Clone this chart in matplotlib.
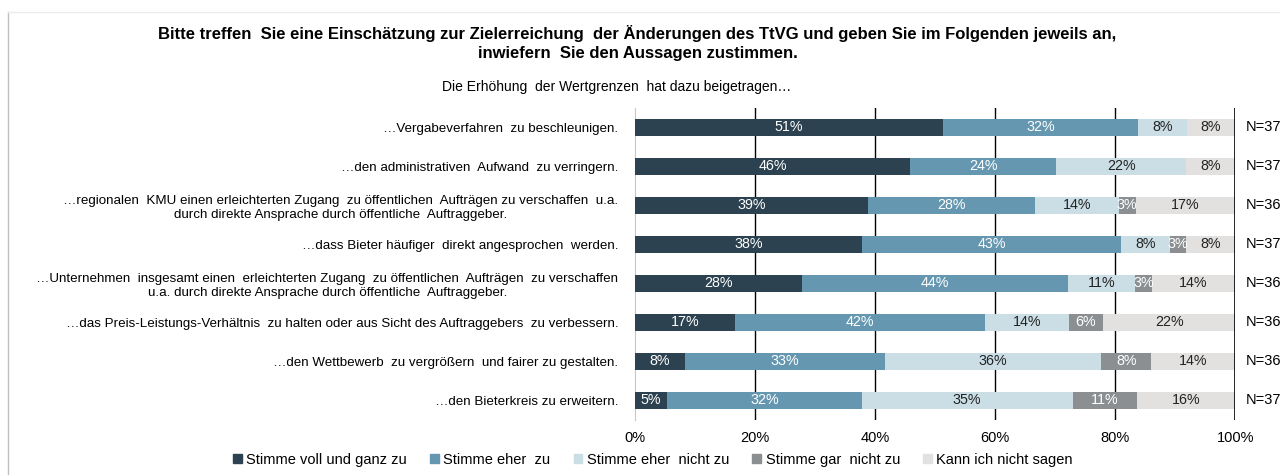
import numpy as np
import matplotlib.pyplot as plt
from matplotlib.lines import Line2D

plt.rcParams['font.family'] = ['Liberation Sans', 'DejaVu Sans']

# Aussagen (von oben nach unten)
statements = [
    "…Vergabeverfahren  zu beschleunigen.",
    "…den administrativen  Aufwand  zu verringern.",
    "…regionalen  KMU einen erleichterten Zugang  zu öffentlichen  Aufträgen zu verschaffen  u.a.\ndurch direkte Ansprache durch öffentliche  Auftraggeber.",
    "…dass Bieter häufiger  direkt angesprochen  werden.",
    "…Unternehmen  insgesamt einen  erleichterten Zugang  zu öffentlichen  Aufträgen  zu verschaffen\nu.a. durch direkte Ansprache durch öffentliche  Auftraggeber.",
    "…das Preis-Leistungs-Verhältnis  zu halten oder aus Sicht des Auftraggebers  zu verbessern.",
    "…den Wettbewerb  zu vergrößern  und fairer zu gestalten.",
    "…den Bieterkreis zu erweitern.",
]
n_labels = ["N=37", "N=37", "N=36", "N=37", "N=36", "N=36", "N=36", "N=37"]

categories = ["Stimme voll und ganz zu", "Stimme eher  zu", "Stimme eher  nicht zu",
              "Stimme gar  nicht zu", "Kann ich nicht sagen"]

# Anteile in %
voll = [51.4, 45.9, 38.9, 37.8, 27.8, 16.7, 8.3, 5.4]
eher = [32.4, 24.3, 27.8, 43.2, 44.4, 41.7, 33.3, 32.4]
eher_nicht = [8.1, 21.6, 13.9, 8.1, 11.1, 13.9, 36.1, 35.1]
gar_nicht = [0.0, 0.0, 2.8, 2.7, 2.8, 5.6, 8.3, 10.8]
weiss_nicht = [8.1, 8.1, 16.7, 8.1, 13.9, 22.2, 13.9, 16.2]

series = [voll, eher, eher_nicht, gar_nicht, weiss_nicht]
colors = ["#2c4250", "#6598b0", "#cbdee6", "#8b8f92", "#e3e1e0"]
text_colors = ["white", "white", "#222222", "white", "#222222"]

fig = plt.figure(figsize=(12.8, 4.75), dpi=100)
ax = fig.add_axes([0.496, 0.116, 0.469, 0.657])

y = np.arange(len(statements))
left = np.zeros(len(statements))
for vals, col, tcol in zip(series, colors, text_colors):
    vals = np.array(vals)
    ax.barh(y, vals, left=left, height=0.43, color=col, zorder=3)
    for yi, (l, v) in enumerate(zip(left, vals)):
        if v > 0:
            ax.text(l + v / 2, yi, f"{v:.0f}%", ha='center', va='center',
                    color=tcol, fontsize=10.3, zorder=4)
    left += vals

ax.set_xlim(0, 100)
ax.set_ylim(len(statements) - 0.5, -0.5)
ax.set_xticks([0, 20, 40, 60, 80, 100])
ax.set_xticklabels(["0%", "20%", "40%", "60%", "80%", "100%"], fontsize=10.5)
ax.tick_params(axis='x', length=0, pad=8)
ax.set_yticks(y)
ax.set_yticklabels(statements, fontsize=9.6, multialignment='center')
ax.tick_params(axis='y', length=0, pad=12)

for xv in [20, 40, 60, 80]:
    ax.axvline(xv, color='black', lw=1, zorder=1)
ax.axvline(100, color='black', lw=1.2, zorder=5)
for s in ['top', 'right', 'bottom']:
    ax.spines[s].set_visible(False)
ax.spines['left'].set_color('#c8c8c8')

for yi, n in enumerate(n_labels):
    ax.text(101.8, yi, n, ha='left', va='center', fontsize=10.5)

fig.text(0.498, 0.91, "Bitte treffen  Sie eine Einschätzung zur Zielerreichung  der Änderungen des TtVG und geben Sie im Folgenden jeweils an,\ninwiefern  Sie den Aussagen zustimmen.",
         ha='center', va='center', fontsize=12, fontweight='bold', linespacing=1.3)
fig.text(0.482, 0.817, "Die Erhöhung  der Wertgrenzen  hat dazu beigetragen…",
         ha='center', va='center', fontsize=10)

handles = [plt.Rectangle((0, 0), 1, 1, color=c) for c in colors]
fig.legend(handles, categories, loc='center', bbox_to_anchor=(0.51, 0.032), ncol=5,
           frameon=False, fontsize=10.5, handlelength=0.6, handleheight=0.6,
           handletextpad=0.3, columnspacing=1.6)

# Rahmen links und oben
fig.add_artist(Line2D([0.006, 0.006], [0.0, 0.975], color='#c0c0c0', lw=1))
fig.add_artist(Line2D([0.006, 1.0], [0.975, 0.975], color='#ececec', lw=1))

fig.savefig("out.png", dpi=100)
